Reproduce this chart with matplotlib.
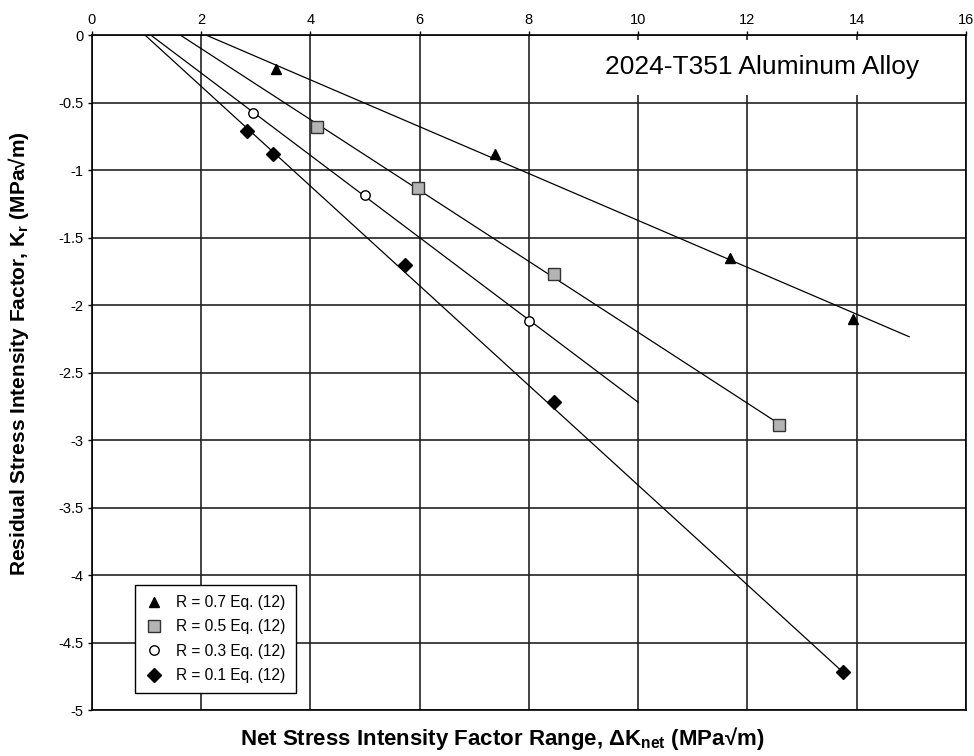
import matplotlib
matplotlib.use("Agg")
import matplotlib.pyplot as plt

plt.rcParams['font.family'] = ['Liberation Sans', 'DejaVu Sans']
plt.rcParams['mathtext.fontset'] = 'custom'
plt.rcParams['mathtext.rm'] = 'Liberation Sans'
plt.rcParams['mathtext.bf'] = 'Liberation Sans:bold'
plt.rcParams['axes.unicode_minus'] = False

# measured points (Net dK, Kr)
kn_07 = [3.37, 7.38, 11.69, 13.93]
kr_07 = [-0.25, -0.88, -1.65, -2.10]
kn_05 = [4.12, 5.98, 8.46, 12.58]
kr_05 = [-0.68, -1.13, -1.77, -2.89]
kn_03 = [2.95, 5.00, 8.01]
kr_03 = [-0.58, -1.185, -2.12]
kn_01 = [2.84, 3.31, 5.73, 8.46, 13.75]
kr_01 = [-0.71, -0.88, -1.70, -2.72, -4.72]

# Eq. (12) fit lines, end points
fit_x_07 = [2.09, 14.96]
fit_y_07 = [0.0, -2.235]
fit_x_05 = [1.62, 12.58]
fit_y_05 = [0.0, -2.88]
fit_x_03 = [1.08, 10.0]
fit_y_03 = [0.0, -2.72]
fit_x_01 = [0.975, 13.75]
fit_y_01 = [0.0, -4.72]

xticks = [0, 2, 4, 6, 8, 10, 12, 14, 16]
yticks = [0, -0.5, -1, -1.5, -2, -2.5, -3, -3.5, -4, -4.5, -5]
ytick_labels = ['0', '-0.5', '-1', '-1.5', '-2', '-2.5', '-3', '-3.5', '-4', '-4.5', '-5']

fig = plt.figure(figsize=(9.74, 7.56), dpi=100)
ax = fig.add_axes([0.0941, 0.0608, 0.8977, 0.8929])

for x in xticks:
    ax.axvline(x, color='#222222', lw=1.2, zorder=0)
for y in yticks:
    ax.axhline(y, color='#222222', lw=1.2, zorder=0)

# fit lines
for fx, fy in [(fit_x_07, fit_y_07), (fit_x_05, fit_y_05),
               (fit_x_03, fit_y_03), (fit_x_01, fit_y_01)]:
    ax.plot(fx, fy, color='black', lw=0.9, zorder=2)

ax.plot(kn_07, kr_07, ls='none', marker='^', ms=7, color='black',
        label='R = 0.7 Eq. (12)', zorder=3)
ax.plot(kn_05, kr_05, ls='none', marker='s', ms=8, mfc='#b4b4b4', mec='#333333',
        mew=1.0, label='R = 0.5 Eq. (12)', zorder=3)
ax.plot(kn_03, kr_03, ls='none', marker='o', ms=6.8, mfc='white', mec='black',
        mew=1.0, label='R = 0.3 Eq. (12)', zorder=3)
ax.plot(kn_01, kr_01, ls='none', marker='D', ms=6.8, color='black',
        label='R = 0.1 Eq. (12)', zorder=3)

ax.set_xlim(0, 16)
ax.set_ylim(-5, 0)
ax.xaxis.tick_top()
ax.set_xticks(xticks)
ax.set_yticks(yticks)
ax.set_yticklabels(ytick_labels)
ax.tick_params(direction='out', length=3, width=1, labelsize=10.5, pad=3)
for s in ax.spines.values():
    s.set_color('black')
    s.set_linewidth(1.2)

ax.text(12.27, -0.24, '2024-T351 Aluminum Alloy', fontsize=19, ha='center', va='center',
        bbox=dict(boxstyle='square,pad=0.6', fc='white', ec='none'), zorder=4)

leg = ax.legend(loc='lower left', bbox_to_anchor=(0.0495, 0.025), borderaxespad=0,
                fancybox=False, edgecolor='black', framealpha=1, fontsize=11.2,
                handlelength=1.2, handletextpad=0.8, labelspacing=0.6,
                borderpad=0.65, numpoints=1)
leg.get_frame().set_linewidth(1.0)
leg.set_zorder(5)

fig.text(0.516, 0.0238, r'Net Stress Intensity Factor Range, ΔK$_{\mathbf{net}}$ (MPa√m)',
         ha='center', va='center', fontsize=16, fontweight='bold')
fig.text(0.0185, 0.532, r'Residual Stress Intensity Factor, K$_{\mathbf{r}}$ (MPa√m)',
         ha='center', va='center', rotation=90, fontsize=15, fontweight='bold')

fig.savefig('out.png', dpi=100)
